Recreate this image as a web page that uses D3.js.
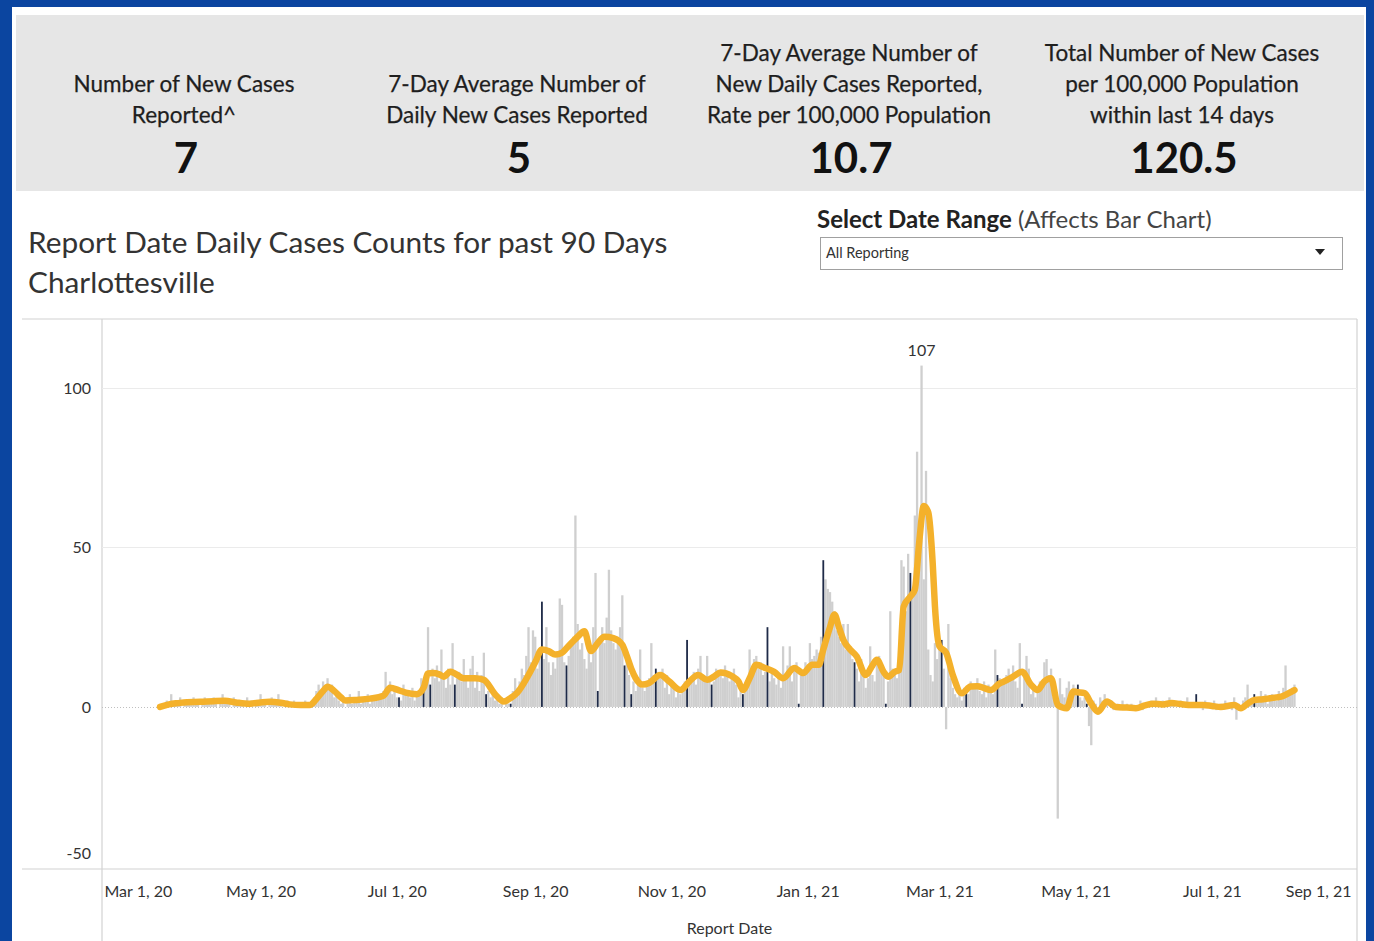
<!DOCTYPE html>
<html><head><meta charset="utf-8">
<script src="https://cdn.jsdelivr.net/npm/d3@7"></script>
<style>body{margin:0;background:#0b45a0;overflow:hidden}svg{display:block}</style>
</head><body><svg id="c" width="1374" height="941"></svg>
<script>
// ---------- DATA ----------
const startDate = "2020-03-17";
const dailyCases = [
 0,1,0,2,1,4,1, 2,1,3,0,2,1,2, 1,3,2,1,0,2,3, 1,2,1,3,2,0,1, 4,2,1,2,0,3,1,
 1,2,1,0,3,1,2, 0,1,2,4,1,2,0, 2,3,1,2,4,1,0, 1,2,0,1,2,1,0, 1,0,2,0,1,1,3,
 5,7,4,8,6,9,5, 7,3,5,2,1,3,0, 2,4,1,3,2,5,1, 3,2,4,1,2,3,2, 4,3,5,11,6,8,4,
 5,3,3,2,7,4,5, 3,6,2,5,4,9,5, 8,25,7,12,9,13,8, 18,10,6,12,7,20,7, 9,11,8,15,10,6,12,
 16,6,11,5,10,17,4, 5,3,6,2,4,1,3, 0,2,1,1,5,9,6, 8,12,10,16,25,14,24, 22,12,16,33,15,25,14,
 10,14,12,16,34,32,14, 13,16,20,22,60,26,18, 20,15,12,18,14,25,42, 5,22,25,20,28,43,24, 20,18,22,25,35,13,15,
 10,4,8,5,7,18,6, 5,8,9,20,10,12,11, 9,12,6,10,4,8,7, 3,5,4,6,8,21,7, 9,11,7,12,16,10,8,
 16,9,7,8,12,10,11, 9,13,11,8,10,12,7, 3,6,4,5,9,18,12, 15,16,12,14,10,11,25, 8,12,9,7,10,6,19,
 9,13,19,8,12,14,1, 11,10,14,13,20,15,16, 18,17,22,46,40,37,36, 33,30,24,22,20,26,18, 26,19,15,14,12,8,15,
 12,6,9,19,10,8,15, 16,12,10,1,8,30,12, 10,9,14,46,44,30,48, 42,35,60,80,50,107,40, 74,18,10,8,20,15,20,
 21,12,-7,26,9,6,4, 3,5,2,6,6,4,8, 7,6,9,5,4,8,3, 7,5,4,18,10,9,7, 8,10,12,9,13,8,6,
 20,1,9,16,12,4,6, 3,5,8,6,14,15,10, 12,3,5,-35,9,4,3, 6,8,5,7,6,7,3, 2,3,1,-6,-12,2,1,
 0,3,2,4,1,0,2, -1,0,1,-1,2,0,1, 0,1,-1,0,0,2,-1, 1,1,0,2,1,3,0, 1,2,0,1,3,1,2,
 0,1,2,0,1,3,0, 1,0,4,1,0,-1,2, 0,1,0,2,-1,0,1, 0,2,0,1,-1,3,-4, 1,0,2,3,7,2,1,
 4,3,2,5,3,4,1, 2,4,3,2,5,3,6, 13,5,4,6,7
];
const darkDays = [107,118,121,132,146,157,171,182,196,208,211,222,236,247,261,272,286,297,311,325,336,350,361,375,386,411,415,464,490];
const avgDays = [0,4,8,12,18,24,29,34,40,45,49,54,58,63,67,70,73,75,78,81,83,88,94,100,103,107,110,115,118,120,122,125,127,130,132,136,141,145,150,154,157,160,165,168,171,174,177,180,182,187,190,193,196,199,203,207,209,211,213,216,219,224,228,233,237,241,245,248,251,256,259,261,264,267,271,275,279,284,288,292,295,297,300,302,304,306,309,312,316,319,321,324,326,329,331,333,336,338,340,342,344,346,347,349,352,355,359,363,366,369,372,376,378,382,386,390,393,396,399,402,406,409,411,414,417,420,424,428,433,437,441,445,449,453,457,462,467,471,475,481,484,487,490,494,497,500,502,505,508];
const avgValues = [0,0.8,1.2,1.5,1.6,1.8,1.9,1.4,1.0,1.4,1.6,1.3,0.8,0.6,0.6,2.5,5,6.3,5,3,2,2.2,2.6,3.5,6,5.2,4.5,4,6,10.5,10.6,10.2,9.5,11,10.5,9,9,8.5,4,1.7,2.8,4.5,10,14,18,17.5,16.4,17,18.4,22,23.7,17.5,20,22,21.6,19.5,16,12,9,7,7.5,10,8,5.3,8,10,8.5,9.5,10.8,9.7,8,5.3,9,13.2,12.2,11,9,12.2,10.6,13.2,13.2,18,25,29,25,21,18,15.8,10,13,14.8,11,9.5,11,11.6,31.5,34.6,36.8,52,63,61,45,31.5,19,17,10,4.3,6.4,6.5,5.9,5.3,7.4,8,9.5,11,7,5.3,8,9,0.6,-0.4,4.8,4.6,4.3,1,-1.5,1.7,0,-0.2,-0.4,0.5,1,0.8,1.2,0.9,0.6,0.6,0.3,0,0.6,-0.4,1,2.2,2.4,2.7,3,3.2,4.2,5.3];
const yTicks = [-50, 0, 50, 100];
const xTickDates = ["2020-03-01","2020-05-01","2020-07-01","2020-09-01","2020-11-01","2021-01-01","2021-03-01","2021-05-01","2021-07-01","2021-09-01"];
const kpiTitles = [
  ["Number of New Cases","Reported^"],
  ["7-Day Average Number of","Daily New Cases Reported"],
  ["7-Day Average Number of","New Daily Cases Reported,","Rate per 100,000 Population"],
  ["Total Number of New Cases","per 100,000 Population","within last 14 days"]
];
const kpiValues = ["7","5","10.7","120.5"];
const kpiCenters = [184, 517, 849, 1182];

// ---------- DRAW ----------
const FONT = "Lato, 'Open Sans', sans-serif";
const parse = d3.timeParse("%Y-%m-%d");
const start = parse(startDate);
const svg = d3.select("#c");

svg.append("rect").attr("width",1374).attr("height",941).attr("fill","#0b45a0");
svg.append("rect").attr("x",12).attr("y",7).attr("width",1354).attr("height",934).attr("fill","#ffffff");
svg.append("rect").attr("x",16).attr("y",15).attr("width",1348).attr("height",176).attr("fill","#e6e6e6");

// KPI header
kpiTitles.forEach((lines,i)=>{
  const n = lines.length;
  lines.forEach((t,j)=>{
    svg.append("text").attr("x",kpiCenters[i]).attr("y",123 - (n-1-j)*31)
      .attr("text-anchor","middle").attr("font-family",FONT).attr("font-size",22.5)
      .attr("fill","#1e1e1e").attr("stroke","#1e1e1e").attr("stroke-width",0.25).text(t);
  });
  svg.append("text").attr("x",kpiCenters[i]+2).attr("y",173)
    .attr("text-anchor","middle").attr("font-family",FONT).attr("font-size",42).attr("font-weight",700)
    .attr("fill","#111").text(kpiValues[i]);
});

// Title
svg.append("text").attr("x",28).attr("y",253).attr("font-family",FONT).attr("font-size",29.8).attr("fill","#333")
  .text("Report Date Daily Cases Counts for past 90 Days");
svg.append("text").attr("x",28).attr("y",293).attr("font-family",FONT).attr("font-size",29.8).attr("fill","#333")
  .text("Charlottesville");

// Date range selector
const sel = svg.append("text").attr("x",817).attr("y",228).attr("font-family",FONT).attr("font-size",24).attr("fill","#222");
sel.append("tspan").attr("font-weight",700).text("Select Date Range");
sel.append("tspan").attr("fill","#444").text(" (Affects Bar Chart)");
svg.append("rect").attr("x",820.5).attr("y",237.5).attr("width",522).attr("height",32).attr("fill","#fff").attr("stroke","#a0a0a0");
svg.append("text").attr("x",826).attr("y",258).attr("font-family",FONT).attr("font-size",14.5).attr("fill","#333").text("All Reporting");
svg.append("path").attr("d","M1315,249 L1325,249 L1320,255 Z").attr("fill","#222");

// Scales
const x = d3.scaleTime().domain([parse("2020-02-20"), parse("2021-09-04")]).range([102,1357]);
const y = d3.scaleLinear().domain([-50.8, 121.6]).range([869,319]);
const L = 102, R = 1357, T = 319, B = 869;

// frame
const frame = svg.append("g").attr("stroke","#d2d2d2").attr("stroke-width",1.2);
frame.append("line").attr("x1",22).attr("x2",R).attr("y1",T).attr("y2",T);
frame.append("line").attr("x1",22).attr("x2",R).attr("y1",B).attr("y2",B);
frame.append("line").attr("x1",L).attr("x2",L).attr("y1",T).attr("y2",941);
frame.append("line").attr("x1",R).attr("x2",R).attr("y1",T).attr("y2",941);

// gridlines
svg.append("g").selectAll("line").data(yTicks.filter(v=>v>0)).join("line")
  .attr("x1",L).attr("x2",R).attr("y1",d=>Math.round(y(d))+0.5).attr("y2",d=>Math.round(y(d))+0.5)
  .attr("stroke","#ebebeb");

// y axis
const yAxis = svg.append("g").attr("transform",`translate(${L-11},0)`)
  .call(d3.axisLeft(y).tickValues(yTicks).tickSize(0).tickPadding(0).tickFormat(d=>String(d)));
yAxis.select(".domain").remove();
yAxis.selectAll("text").attr("font-family",FONT).attr("font-size",16).attr("fill","#333")
  .attr("transform",d=> (y(d) > B-20 ? `translate(0,${(B-16)-y(d)})` : null));

// x axis
const xAxis = svg.append("g").attr("transform",`translate(0,${B})`)
  .call(d3.axisBottom(x).tickValues(xTickDates.map(parse)).tickSize(0).tickPadding(17).tickFormat(d3.timeFormat("%b %-d, %y")));
xAxis.select(".domain").remove();
xAxis.selectAll("text").attr("font-family",FONT).attr("font-size",16).attr("fill","#333");
xAxis.selectAll("text").each(function(d){
  const w = this.getComputedTextLength(); const cx = x(d);
  if (cx - w/2 < L+2) d3.select(this).attr("x", (L+2+w/2) - cx);
  if (cx + w/2 > R-6) d3.select(this).attr("x", (R-6-w/2) - cx);
});
svg.append("text").attr("x",(L+R)/2).attr("y",934).attr("text-anchor","middle")
  .attr("font-family",FONT).attr("font-size",16).attr("fill","#333").text("Report Date");

// zero line
svg.append("line").attr("x1",L).attr("x2",R).attr("y1",Math.round(y(0))+0.5).attr("y2",Math.round(y(0))+0.5)
  .attr("stroke","#bfbfbf").attr("stroke-dasharray","1,2");

// bars
const darkSet = new Set(darkDays);
const bars = dailyCases.map((v,i)=>({date:d3.timeDay.offset(start,i), v, dark:darkSet.has(i)}));
const bw = 2.3;
svg.append("g").selectAll("rect").data(bars.filter(d=>!d.dark)).join("rect")
  .attr("x",d=>x(d.date)-bw/2).attr("width",bw)
  .attr("y",d=>y(Math.max(0,d.v))).attr("height",d=>Math.abs(y(d.v)-y(0)))
  .attr("fill","#cfcfcf");
svg.append("g").selectAll("rect").data(bars.filter(d=>d.dark)).join("rect")
  .attr("x",d=>x(d.date)-0.9).attr("width",1.8)
  .attr("y",d=>y(Math.max(0,d.v))).attr("height",d=>Math.max(1,Math.abs(y(d.v)-y(0))))
  .attr("fill","#1f2b48");

// max label
const maxBar = bars.reduce((a,b)=>b.v>a.v?b:a);
svg.append("text").attr("x",x(maxBar.date)).attr("y",y(maxBar.v)-10).attr("text-anchor","middle")
  .attr("font-family",FONT).attr("font-size",16).attr("fill","#333").text(maxBar.v);

// 7-day average line
const avgPts = avgDays.map((d,i)=>({date:d3.timeDay.offset(start,d), v:avgValues[i]}));
svg.append("path").datum(avgPts)
  .attr("d", d3.line().x(d=>x(d.date)).y(d=>y(d.v)).curve(d3.curveMonotoneX))
  .attr("fill","none").attr("stroke","#f4b12b").attr("stroke-width",6.5)
  .attr("stroke-linejoin","round").attr("stroke-linecap","round");
</script></body></html>
